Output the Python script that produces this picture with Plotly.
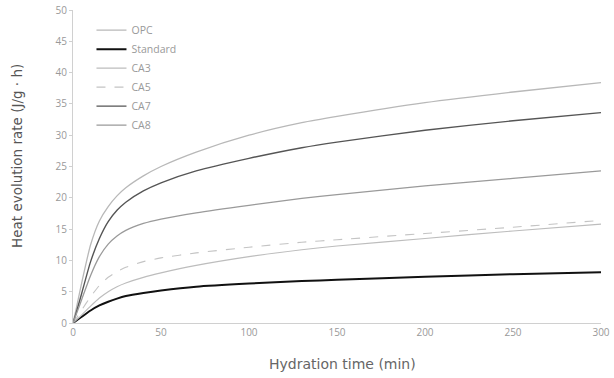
import plotly.graph_objects as go

time_min = [0, 2, 5, 10, 15, 20, 25, 30, 40, 50, 70, 100, 130, 150, 200, 250, 300]
opc      = [0, 2.5, 6.5, 12.5, 16.3, 18.6, 20.3, 21.6, 23.5, 25.0, 27.3, 30.0, 32.0, 33.0, 35.2, 36.9, 38.4]
standard = [0, 0.4, 1.0, 2.0, 2.8, 3.4, 3.9, 4.3, 4.8, 5.2, 5.8, 6.3, 6.7, 6.9, 7.4, 7.8, 8.1]
ca3      = [0, 0.5, 1.3, 2.7, 4.0, 5.0, 5.8, 6.4, 7.3, 8.0, 9.2, 10.6, 11.7, 12.3, 13.5, 14.7, 15.8]
ca5      = [0, 0.8, 2.1, 4.2, 6.0, 7.3, 8.2, 8.9, 9.8, 10.4, 11.2, 12.1, 12.9, 13.3, 14.3, 15.3, 16.4]
ca7      = [0, 1.8, 4.8, 9.8, 13.5, 16.2, 18.0, 19.3, 21.1, 22.4, 24.3, 26.3, 28.0, 28.9, 30.8, 32.3, 33.6]
ca8      = [0, 1.5, 3.8, 7.6, 10.6, 12.6, 13.9, 14.8, 15.9, 16.6, 17.6, 18.8, 19.9, 20.5, 21.9, 23.1, 24.3]

x_ticks = [0, 50, 100, 150, 200, 250, 300]
y_ticks = [0, 5, 10, 15, 20, 25, 30, 35, 40, 45, 50]

x_title = "Hydration time (min)"
y_title = "Heat evolution rate (J/g · h)"

series = [
    ("OPC", opc, dict(color="#b8b8b8", width=1.3, dash="solid")),
    ("Standard", standard, dict(color="#111111", width=2.0, dash="solid")),
    ("CA3", ca3, dict(color="#bdbdbd", width=1.2, dash="solid")),
    ("CA5", ca5, dict(color="#c4c4c4", width=1.1, dash="dash")),
    ("CA7", ca7, dict(color="#555555", width=1.4, dash="solid")),
    ("CA8", ca8, dict(color="#9a9a9a", width=1.3, dash="solid")),
]

fig = go.Figure()
for name, ys, line in series:
    fig.add_trace(go.Scatter(x=time_min, y=ys, name=name, mode="lines",
                             line=dict(shape="spline", smoothing=0.6, **line)))

font_family = "Open Sans, Liberation Sans, sans-serif"
title_family = "DejaVu Sans, Verdana, sans-serif"
fig.update_layout(
    width=614, height=378,
    margin=dict(l=73, r=13, t=10, b=55, autoexpand=False),
    paper_bgcolor="white", plot_bgcolor="white",
    font=dict(family=font_family, size=10, color="#999999"),
    showlegend=True,
    legend=dict(x=0.035, y=0.982, xanchor="left", yanchor="top",
                bgcolor="rgba(0,0,0,0)", font=dict(size=10.5, color="#999999"),
                itemwidth=30, tracegroupgap=0),
    xaxis=dict(range=[0, 300], tickvals=x_ticks, showgrid=False, zeroline=False,
               automargin=False,
               showline=True, linecolor="#d0d0d0", linewidth=1,
               ticks="", tickfont=dict(size=10, color="#999999")),
    yaxis=dict(range=[0, 50], tickvals=y_ticks, showgrid=False, zeroline=False,
               automargin=False,
               showline=True, linecolor="#d0d0d0", linewidth=1,
               ticks="outside", ticklen=3, tickcolor="#d0d0d0",
               tickfont=dict(size=10, color="#999999")),
    annotations=[
        dict(text=x_title, xref="paper", yref="paper", x=0.511, y=-0.131,
             xanchor="center", yanchor="middle", showarrow=False,
             font=dict(family=title_family, size=14, color="#666666")),
        dict(text=y_title, xref="paper", yref="paper", x=-0.106, y=0.534,
             xanchor="center", yanchor="middle", showarrow=False, textangle=-90,
             font=dict(family=title_family, size=13.5, color="#555555")),
    ],
)

fig.write_html("out.html")
